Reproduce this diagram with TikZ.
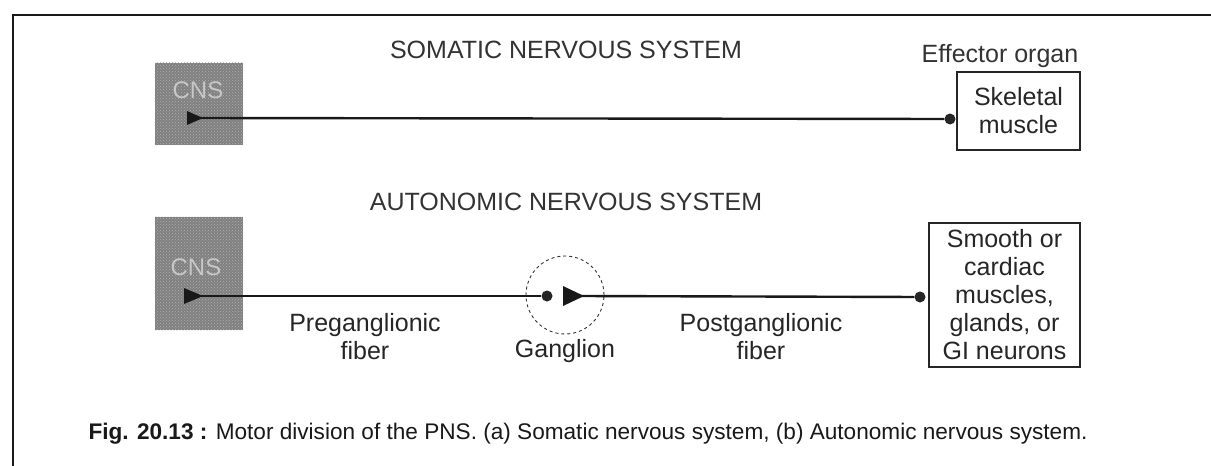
\documentclass[tikz,border=0pt]{standalone}
\usepackage{fontspec}
\setmainfont{Liberation Sans}
\usetikzlibrary{patterns}
\begin{document}
\begin{tikzpicture}[x=1pt,y=-1pt,
  txt/.style={inner sep=0pt,font=\fontsize{25}{28}\selectfont,text=black!85,align=center},
  head/.style={inner sep=0pt,font=\fontsize{25}{28}\selectfont,text=black!80},
  cnsbox/.style={draw=none,fill=black!50,inner sep=0pt},
  cnstxt/.style={inner sep=0pt,font=\fontsize{24}{24}\selectfont,text=black!22},
  organ/.style={draw=black!85,line width=1.4pt,inner sep=0pt,align=center,font=\fontsize{25}{28}\selectfont,text=black!85},
  fiber/.style={draw=black!90,line width=2.4pt},
  ending/.style={circle,fill=black!85,minimum size=11pt,inner sep=0pt},
  gang/.style={circle,draw=black!80,dashed,line width=0.9pt,minimum size=78pt,inner sep=0pt},
  frameline/.style={draw=black!90,line width=2.2pt}]
\useasboundingbox (0,0) rectangle (1211,466);
\fill[white] (0,0) rectangle (1211,466);
% frame
\coordinate (ftl) at (13,15);
\coordinate (ftr) at (1211,15);
\coordinate (fbl) at (13,466);
\draw[frameline] (ftr) -- (ftl) -- (fbl);

% somatic
\node[head] (somh) at (566,50) {SOMATIC NERVOUS SYSTEM};
\node[cnsbox,minimum width=88pt,minimum height=82pt] (cns1) at (199,104) {};
\fill[pattern=crosshatch dots,pattern color=black!30] (cns1.north west) rectangle (cns1.south east);
\node[cnstxt] (cns1t) at (198,90) {CNS};
\coordinate (s1) at (194,118);
\fill[black!90] (187,111) -- (203,118) -- (187,125) -- cycle;
\node[ending] (d1) at (950,119) {};
\draw[fiber] (s1) -- (d1);
\node[head] (effl) at (1000,56) {Effector organ};
\node[organ,minimum width=123pt,minimum height=78pt] (sk) at (1018.5,111) {Skeletal\\muscle};

% autonomic
\node[head] (auth) at (566,202) {AUTONOMIC NERVOUS SYSTEM};
\node[cnsbox,minimum width=88pt,minimum height=113pt] (cns2) at (199,273.5) {};
\fill[pattern=crosshatch dots,pattern color=black!30] (cns2.north west) rectangle (cns2.south east);
\node[cnstxt] (cns2t) at (196,267) {CNS};
\coordinate (s2) at (192,296);
\fill[black!90] (184,288) -- (203,296) -- (184,304) -- cycle;
\node[ending] (g1) at (547,296) {};
\draw[fiber] (s2) -- (g1);
\node[gang] (gc) at (565,295) {};
\coordinate (g2) at (580,296);
\fill[black!90] (563,286) -- (584,296) -- (563,306) -- cycle;
\node[ending] (d2) at (920,297) {};
\draw[fiber] (g2) -- (d2);
\node[organ,minimum width=151pt,minimum height=144pt] (sm) at (1004.5,295)
  {\fontsize{25}{24.5}\selectfont Smooth or\\cardiac\\muscles,\\glands, or\\GI neurons};

\node[txt] (pre) at (365,337) {Preganglionic\\fiber};
\node[txt] (gl) at (565,351) {Ganglion};
\node[txt] (post) at (761,337) {Postganglionic\\fiber};

% caption
\node[inner sep=0pt,font=\fontsize{22.6}{26}\selectfont,text=black!90] (cap) at (588,434)
  {\textbf{Fig. 20.13 :} Motor division of the PNS. (a) Somatic nervous system, (b) Autonomic nervous system.};
\end{tikzpicture}
\end{document}
